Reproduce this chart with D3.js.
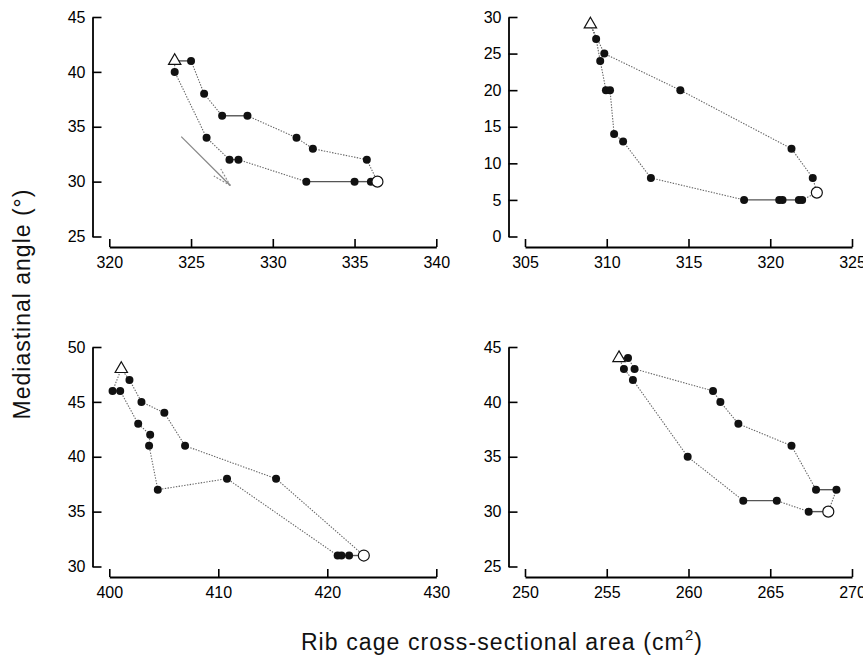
<!DOCTYPE html>
<html>
<head>
<meta charset="utf-8">
<script src="https://cdn.jsdelivr.net/npm/d3@7"></script>
<style>
  html, body { margin: 0; padding: 0; background: #fff; }
  svg { display: block; }
</style>
</head>
<body>
<svg id="chart" width="863" height="656"></svg>
<script>
// Rib cage area vs mediastinal angle loops, one panel per subject.
// Each loop starts at the open triangle and runs round to the open circle and back.

const areaA  = [324, 325, 325.8, 326.9, 328.45, 331.45, 332.45, 335.75, 336.4, 336, 335, 332.05, 327.9, 327.35, 325.95, 324];
const angleA = [41, 41, 38, 36, 36, 34, 33, 32, 30, 30, 30, 30, 32, 32, 34, 40];

const areaB  = [309.0, 309.35, 309.6, 309.95, 310.2, 310.45, 311.0, 312.7, 318.4, 320.55, 320.75, 321.75, 321.95, 322.85, 322.6, 321.3, 314.5, 309.85];
const angleB = [29, 27, 24, 20, 20, 14, 13, 8, 5, 5, 5, 5, 5, 6, 8, 12, 20, 25];

const areaC  = [401.1, 401.85, 402.95, 405.05, 406.95, 415.3, 423.35, 422.0, 421.3, 420.95, 410.8, 404.45, 403.65, 403.75, 402.65, 401.0, 400.3];
const angleC = [48, 47, 45, 44, 41, 38, 31, 31, 31, 31, 38, 37, 41, 42, 43, 46, 46];

const areaD  = [255.75, 256.3, 256.7, 261.5, 261.95, 263.05, 266.3, 267.8, 269.05, 268.55, 267.35, 265.4, 263.35, 259.95, 256.6, 256.05];
const angleD = [44, 44, 43, 41, 40, 38, 36, 32, 32, 30, 30, 31, 31, 35, 42, 43];

// index of the open-circle point in each loop (index 0 is the triangle)
const circleIndex = [8, 13, 6, 9];

const xDomains = [[320, 340], [305, 325], [400, 430], [250, 270]];
const yDomains = [[25, 45], [0, 30], [30, 50], [25, 45]];
const xTicks = [[320, 325, 330, 335, 340], [305, 310, 315, 320, 325], [400, 410, 420, 430], [250, 255, 260, 265, 270]];
const yTicks = [[25, 30, 35, 40, 45], [0, 5, 10, 15, 20, 25, 30], [30, 35, 40, 45, 50], [25, 30, 35, 40, 45]];

// direction arrow drawn in the first panel
const arrowArea  = [324.4, 327.4];
const arrowAngle = [34.1, 29.65];

const yTitle = "Mediastinal angle (°)";
const xTitle = "Rib cage cross-sectional area (cm";

const panels = [
  { area: areaA, angle: angleA },
  { area: areaB, angle: angleB },
  { area: areaC, angle: angleC },
  { area: areaD, angle: angleD }
];

const FONT = "'Liberation Sans', Arial, Helvetica, sans-serif";

// layout
const colYAxisX = [92.5, 508.5];
const colXRange = [[109.3, 436.3], [525, 852]];
const rowYRange = [[236.5, 17], [566.5, 347]];
const rowXAxisY = [247, 577];

const svg = d3.select("#chart");

function styleAxis(sel) {
  sel.attr("font-family", FONT).attr("font-size", 16);
  sel.select(".domain").attr("stroke", "#000").attr("stroke-width", 1.8);
  sel.selectAll(".tick line").attr("stroke", "#000").attr("stroke-width", 1.6);
  sel.selectAll(".tick text").attr("fill", "#000");
}

panels.forEach((p, i) => {
  const col = i % 2, row = Math.floor(i / 2);
  const x = d3.scaleLinear().domain(xDomains[i]).range(colXRange[col]);
  const y = d3.scaleLinear().domain(yDomains[i]).range(rowYRange[row]);
  const g = svg.append("g").attr("class", "panel");

  g.append("g")
    .attr("transform", `translate(${colYAxisX[col]},0)`)
    .call(d3.axisLeft(y).tickValues(yTicks[i]).tickFormat(d3.format("d"))
      .tickSizeInner(-9).tickSizeOuter(0).tickPadding(7))
    .call(styleAxis);

  g.append("g")
    .attr("transform", `translate(0,${rowXAxisY[row]})`)
    .call(d3.axisBottom(x).tickValues(xTicks[i]).tickFormat(d3.format("d"))
      .tickSizeInner(-8).tickSizeOuter(0).tickPadding(10))
    .call(styleAxis);

  // closed loop segments
  const pts = p.area.map((a, k) => ({ a, v: p.angle[k], k }));
  const segs = pts.map((d, k) => [d, pts[(k + 1) % pts.length]]);

  g.append("g").selectAll("line")
    .data(segs)
    .join("line")
    .attr("x1", s => x(s[0].a)).attr("y1", s => y(s[0].v))
    .attr("x2", s => x(s[1].a)).attr("y2", s => y(s[1].v))
    .attr("stroke", s => s[0].v === s[1].v ? "#555" : "#666")
    .attr("stroke-width", s => s[0].v === s[1].v ? 1.4 : 1.1)
    .attr("stroke-dasharray", s => s[0].v === s[1].v ? null : "1.4,1.4");

  // filled points
  g.append("g").selectAll("circle")
    .data(pts.filter(d => d.k !== 0 && d.k !== circleIndex[i]))
    .join("circle")
    .attr("cx", d => x(d.a)).attr("cy", d => y(d.v))
    .attr("r", 4)
    .attr("fill", "#111");

  // open circle
  const c = pts[circleIndex[i]];
  g.append("circle")
    .attr("cx", x(c.a)).attr("cy", y(c.v))
    .attr("r", 5.5)
    .attr("fill", "#fff").attr("stroke", "#111").attr("stroke-width", 1.2);

  // open triangle
  const t = pts[0];
  g.append("path")
    .attr("d", d3.symbol().type(d3.symbolTriangle).size(66)())
    .attr("transform", `translate(${x(t.a)},${y(t.v)})`)
    .attr("fill", "#fff").attr("stroke", "#111").attr("stroke-width", 1.2);

  if (i === 0) {
    const x0 = x(arrowArea[0]), y0 = y(arrowAngle[0]);
    const x1 = x(arrowArea[1]), y1 = y(arrowAngle[1]);
    g.append("line")
      .attr("x1", x0).attr("y1", y0).attr("x2", x1).attr("y2", y1)
      .attr("stroke", "#888").attr("stroke-width", 1.3);
    const ang = Math.atan2(y0 - y1, x0 - x1);
    const len = 19, spread = 15 * Math.PI / 180;
    [-spread, spread].forEach(o => {
      g.append("line")
        .attr("x1", x1).attr("y1", y1)
        .attr("x2", x1 + len * Math.cos(ang + o))
        .attr("y2", y1 + len * Math.sin(ang + o))
        .attr("stroke", "#888").attr("stroke-width", 1.1)
        .attr("stroke-dasharray", "2,1.5");
    });
  }
});

// axis titles
svg.append("text")
  .attr("transform", "translate(30,304) rotate(-90)")
  .attr("text-anchor", "middle")
  .attr("font-family", FONT).attr("font-size", 23)
  .attr("letter-spacing", 1)
  .attr("fill", "#111")
  .text(yTitle);

const xt = svg.append("text")
  .attr("x", 502).attr("y", 650)
  .attr("text-anchor", "middle")
  .attr("font-family", FONT).attr("font-size", 23)
  .attr("letter-spacing", 1.1)
  .attr("fill", "#111");
xt.append("tspan").text(xTitle);
xt.append("tspan").attr("dy", -10).attr("font-size", 15).text("2");
xt.append("tspan").attr("dy", 10).text(")");
</script>
</body>
</html>
